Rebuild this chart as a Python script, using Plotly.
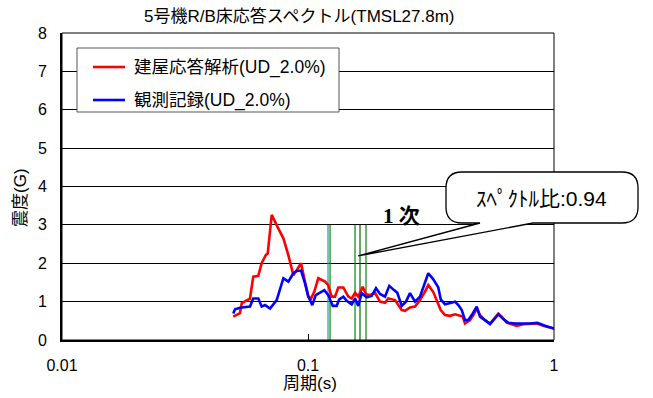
import math
import plotly.graph_objects as go

# Floor response spectrum, Unit 5 R/B, TMSL 27.8 m (UD, damping 2.0%)
period_analysis = [0.0497, 0.0529, 0.0538, 0.0563, 0.0581, 0.0599, 0.0628, 0.0648, 0.0673, 0.0686,
                   0.0712, 0.0757, 0.0794, 0.0832, 0.0872, 0.0900, 0.0937, 0.0972, 0.1003, 0.1029,
                   0.1061, 0.1101, 0.1137, 0.1173, 0.1209, 0.1248, 0.1288, 0.1328, 0.1392, 0.1458,
                   0.1505, 0.1553, 0.1601, 0.1669, 0.1721, 0.1786, 0.1872, 0.1962, 0.2056, 0.2120,
                   0.2258, 0.2404, 0.2479, 0.2598, 0.2723, 0.2853, 0.2990, 0.3083, 0.3231, 0.3336,
                   0.3463, 0.3605, 0.3778, 0.3959, 0.4149, 0.4255, 0.4348, 0.4556, 0.4699, 0.4851,
                   0.5003, 0.5243, 0.5494, 0.5704, 0.5938, 0.6130, 0.6424, 0.6732, 0.7054, 0.7504,
                   0.7989, 0.8506, 0.9193, 1.0]
accel_analysis = [0.61, 0.70, 0.96, 1.02, 1.08, 1.65, 1.67, 2.00, 2.21, 2.26,
                  3.26, 2.91, 2.65, 2.21, 1.69, 1.82, 2.00, 1.52, 1.13, 1.08,
                  1.26, 1.61, 1.56, 1.52, 1.43, 1.13, 1.13, 1.37, 1.37, 1.13,
                  1.08, 1.23, 1.13, 1.39, 1.19, 1.17, 1.23, 1.00, 0.97, 1.08,
                  1.04, 0.78, 0.76, 0.85, 0.87, 1.04, 1.26, 1.43, 1.25, 1.05,
                  0.78, 0.65, 0.63, 0.67, 0.63, 0.61, 0.43, 0.52, 0.65, 0.82,
                  0.65, 0.52, 0.42, 0.54, 0.69, 0.61, 0.45, 0.41, 0.37, 0.41,
                  0.42, 0.43, 0.36, 0.30]

period_observed = [0.0497, 0.0505, 0.0529, 0.0545, 0.0581, 0.0599, 0.0628, 0.0648, 0.0669, 0.0701,
                   0.0746, 0.0794, 0.0832, 0.0872, 0.0900, 0.0937, 0.0972, 0.1003, 0.1041, 0.1075,
                   0.1119, 0.1165, 0.1209, 0.1260, 0.1308, 0.1340, 0.1392, 0.1437, 0.1505, 0.1553,
                   0.1601, 0.1653, 0.1732, 0.1815, 0.1890, 0.1962, 0.2056, 0.2140, 0.2237, 0.2307,
                   0.2404, 0.2502, 0.2598, 0.2723, 0.2853, 0.2943, 0.3083, 0.3231, 0.3386, 0.3463,
                   0.3605, 0.3753, 0.3959, 0.4084, 0.4216, 0.4348, 0.4485, 0.4629, 0.4851, 0.5003,
                   0.5243, 0.5494, 0.5704, 0.5938, 0.6187, 0.6521, 0.6942, 0.7504, 0.7989, 0.8553,
                   0.9193, 1.0]
accel_observed = [0.69, 0.80, 0.84, 0.85, 0.87, 1.08, 1.08, 0.87, 0.91, 0.82,
                  1.04, 1.61, 1.52, 1.74, 1.80, 1.81, 1.48, 1.13, 0.91, 1.17,
                  1.24, 1.30, 1.17, 0.89, 0.89, 1.06, 1.13, 1.02, 0.93, 1.08,
                  0.89, 1.22, 1.11, 1.15, 1.35, 1.20, 1.13, 1.41, 1.30, 1.23,
                  0.89, 1.00, 1.22, 1.00, 1.13, 1.39, 1.74, 1.58, 1.37, 1.06,
                  0.93, 0.96, 1.00, 0.91, 0.78, 0.52, 0.52, 0.65, 0.87, 0.61,
                  0.52, 0.42, 0.54, 0.67, 0.56, 0.45, 0.43, 0.43, 0.43, 0.45,
                  0.37, 0.30]

# Natural periods marked by vertical lines (first mode group)
mode_periods = [0.1206, 0.1229, 0.1553, 0.1627, 0.1721]
mode_colors = ["#2a9c98", "#008a00", "#008a00", "#006e00", "#008a00"]
mode_line_top = 3.0

series_names = ["建屋応答解析(UD_2.0%)", "観測記録(UD_2.0%)"]
series_colors = ["#ff0000", "#0000ff"]
x_tick_vals = [0.01, 0.1, 1]
x_tick_text = ["0.01", "0.1", "1"]
y_tick_vals = [0, 1, 2, 3, 4, 5, 6, 7, 8]

ratio_text = "ｽﾍﾟｸﾄﾙ比:0.94"
ratio_tip_period = 0.160
ratio_tip_value = 2.19

W, H = 653, 398
ML, MR, MT, MB = 62, 99, 33, 58
PW, PH = W - ML - MR, H - MT - MB

latin = "Liberation Sans, Arial, Noto Sans CJK JP, sans-serif"


def pxx(x):
    """Page pixel column -> paper x."""
    return (x - ML) / PW


def pxy(y):
    """Page pixel row -> paper y."""
    return (H - MB - y) / PH


fig = go.Figure()

for p, c in zip(mode_periods, mode_colors):
    fig.add_trace(go.Scatter(x=[p, p], y=[0, mode_line_top], mode="lines",
                             line=dict(color=c, width=1.2), showlegend=False,
                             hoverinfo="skip"))

fig.add_trace(go.Scatter(x=period_analysis, y=accel_analysis, mode="lines",
                         name=series_names[0], showlegend=False,
                         line=dict(color=series_colors[0], width=2.6)))
fig.add_trace(go.Scatter(x=period_observed, y=accel_observed, mode="lines",
                         name=series_names[1], showlegend=False,
                         line=dict(color=series_colors[1], width=2.6)))

# Callout bubble with a wedge pointing at the spectrum
tip_x = (math.log10(ratio_tip_period) + 2) / 2
tip_y = ratio_tip_value / 8
bl, br, bt, bb, r = 446, 638, 172, 223, 16
wl, wr = 480, 533
path = (
    f"M {pxx(bl + r)} {pxy(bt)} L {pxx(br - r)} {pxy(bt)} "
    f"Q {pxx(br)} {pxy(bt)} {pxx(br)} {pxy(bt + r)} "
    f"L {pxx(br)} {pxy(bb - r)} "
    f"Q {pxx(br)} {pxy(bb)} {pxx(br - r)} {pxy(bb)} "
    f"L {pxx(wr)} {pxy(bb)} L {tip_x} {tip_y} L {pxx(wl)} {pxy(bb)} "
    f"L {pxx(bl + r)} {pxy(bb)} "
    f"Q {pxx(bl)} {pxy(bb)} {pxx(bl)} {pxy(bb - r)} "
    f"L {pxx(bl)} {pxy(bt + r)} "
    f"Q {pxx(bl)} {pxy(bt)} {pxx(bl + r)} {pxy(bt)} Z"
)

# Legend box drawn by hand: frame, sample lines, labels
leg_l, leg_r, leg_t, leg_b = 77, 339, 48, 112
leg_rows = [67, 100]
leg_line = (93, 125)
leg_text_x = 132

shapes = [
    dict(type="rect", xref="paper", yref="paper", x0=0, x1=1, y0=0, y1=1,
         line=dict(color="#000000", width=1), layer="above"),
    dict(type="path", xref="paper", yref="paper", path=path,
         fillcolor="#ffffff", line=dict(color="#000000", width=1.3), layer="above"),
    dict(type="rect", xref="paper", yref="paper",
         x0=pxx(leg_l), x1=pxx(leg_r), y0=pxy(leg_b), y1=pxy(leg_t),
         fillcolor="#ffffff", line=dict(color="#555555", width=1), layer="above"),
]
annotations = []
for name, color, row in zip(series_names, series_colors, leg_rows):
    shapes.append(dict(type="line", xref="paper", yref="paper",
                       x0=pxx(leg_line[0]), x1=pxx(leg_line[1]), y0=pxy(row), y1=pxy(row),
                       line=dict(color=color, width=2.6), layer="above"))
    annotations.append(dict(text=name, xref="paper", yref="paper",
                            x=pxx(leg_text_x), y=pxy(row), xanchor="left", yanchor="middle",
                            showarrow=False, font=dict(family=latin, size=17.5, color="#000000")))

annotations += [
    dict(text="5号機R/B床応答スペクトル(TMSL27.8m)", xref="paper", yref="paper",
         x=pxx(299), y=pxy(16), xanchor="center", yanchor="middle", showarrow=False,
         font=dict(family=latin, size=17, color="#000000")),
    dict(text=ratio_text, xref="paper", yref="paper", x=pxx(541), y=pxy(198),
         xanchor="center", yanchor="middle",
         showarrow=False, font=dict(family=latin, size=21, color="#000000")),
    dict(text="<b>1 次</b>", xref="paper", yref="paper", x=pxx(401), y=pxy(216),
         xanchor="center", yanchor="middle",
         showarrow=False, font=dict(family="Liberation Serif, Times New Roman, Noto Sans CJK JP, serif",
                                    size=21, color="#000000")),
    dict(text="周期(s)", xref="paper", yref="paper", x=pxx(310), y=pxy(383),
         xanchor="center", yanchor="middle",
         showarrow=False, font=dict(family=latin, size=17, color="#000000")),
    dict(text="震度(G)", xref="paper", yref="paper", x=pxx(20), y=pxy(198),
         xanchor="center", yanchor="middle",
         textangle=-90, showarrow=False, font=dict(family=latin, size=17, color="#000000")),
]

fig.update_layout(
    width=W, height=H,
    margin=dict(l=ML, r=MR, t=MT, b=MB),
    paper_bgcolor="#ffffff", plot_bgcolor="#ffffff",
    font=dict(family=latin, size=16, color="#000000"),
    showlegend=False,
    shapes=shapes,
    annotations=annotations,
)

fig.update_xaxes(type="log", range=[-2, 0], tickvals=x_tick_vals, ticktext=x_tick_text,
                 ticks="inside", ticklen=6, tickcolor="#000000", showgrid=False,
                 showline=True, linecolor="#000000", linewidth=2, zeroline=False,
                 ticklabelstandoff=10, tickfont=dict(size=16))
fig.update_yaxes(range=[0, 8], tickvals=y_tick_vals, ticks="inside", ticklen=6,
                 tickcolor="#000000", showgrid=True, gridcolor="#000000", gridwidth=1,
                 showline=True, linecolor="#000000", linewidth=2, zeroline=False,
                 ticklabelstandoff=10, tickfont=dict(size=16))

fig.write_html("out.html")
